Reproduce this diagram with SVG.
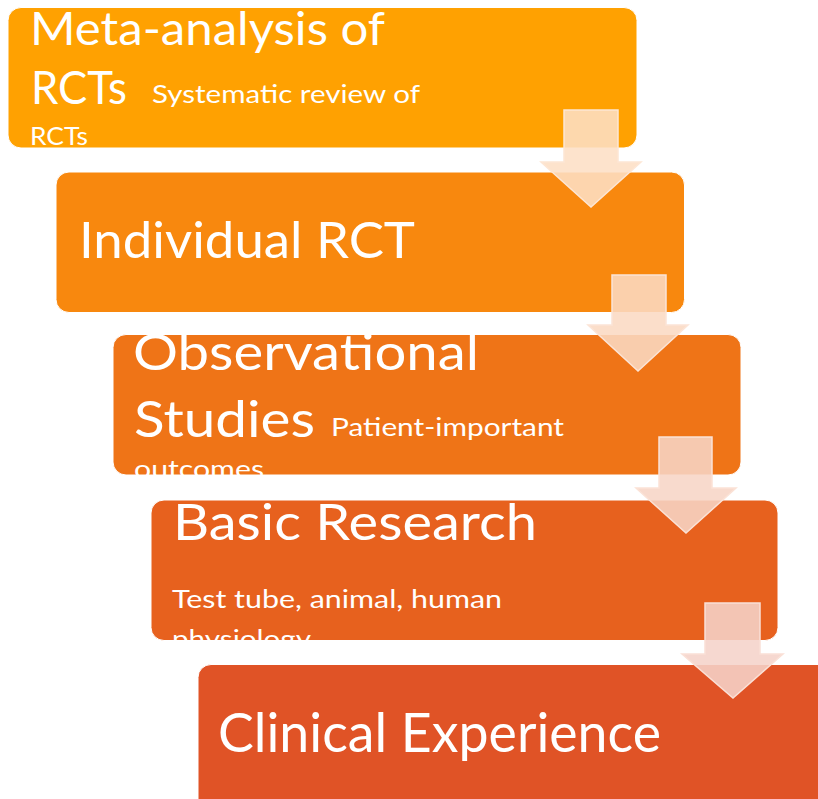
<svg xmlns="http://www.w3.org/2000/svg" width="818" height="799" viewBox="0 0 818 799">
  <style>
    .box { stroke: #ffffff; stroke-width: 1; }
    .t { font-family: Lato, "Open Sans", "Liberation Sans", sans-serif; fill: #ffffff; }
    .big { font-size: 46px; }
    .big2 { font-size: 51px; }
    .small { font-size: 25px; }
    .arrow { stroke-width: 1.5; stroke-linejoin: miter; }
  </style>
  <defs>
    <clipPath id="c1"><rect x="8" y="7.5" width="629" height="140.5" rx="13"/></clipPath>
    <clipPath id="c2"><rect x="56" y="172" width="628.5" height="140.5" rx="13"/></clipPath>
    <clipPath id="c3"><rect x="113" y="334.5" width="628" height="140.5" rx="13"/></clipPath>
    <clipPath id="c4"><rect x="151" y="500" width="627" height="140.5" rx="13"/></clipPath>
    <clipPath id="c5"><rect x="198" y="664.5" width="640" height="160" rx="13"/></clipPath>
  </defs>
  <rect width="818" height="799" fill="#ffffff"/>

  <g id="node-meta-analysis">
    <rect class="box" x="8" y="7.5" width="629" height="140.5" rx="13" fill="#FFA101"/>
    <g clip-path="url(#c1)">
      <text class="t big" x="30" y="45" textLength="355" lengthAdjust="spacingAndGlyphs">Meta-analysis of</text>
      <text class="t big" x="31" y="104" textLength="96" lengthAdjust="spacingAndGlyphs">RCTs</text>
      <text class="t small" x="152" y="103" textLength="268" lengthAdjust="spacingAndGlyphs">Systematic review of</text>
      <text class="t small" x="30" y="145" textLength="58" lengthAdjust="spacingAndGlyphs">RCTs</text>
    </g>
  </g>

  <g id="node-individual-rct">
    <rect class="box" x="56" y="172" width="628.5" height="140.5" rx="13" fill="#F8880E"/>
    <g clip-path="url(#c2)">
      <text class="t big2" x="79" y="258" textLength="336" lengthAdjust="spacingAndGlyphs">Individual RCT</text>
    </g>
  </g>

  <g id="node-observational">
    <rect class="box" x="113" y="334.5" width="628" height="140.5" rx="13" fill="#EF7417"/>
    <g clip-path="url(#c3)">
      <text class="t big2" x="133" y="370" textLength="346" lengthAdjust="spacingAndGlyphs">Observational</text>
      <text class="t big2" x="134" y="437" textLength="181" lengthAdjust="spacingAndGlyphs">Studies</text>
      <text class="t small" x="331" y="436" textLength="233" lengthAdjust="spacingAndGlyphs">Patient-important</text>
      <text class="t small" x="134" y="478" textLength="130" lengthAdjust="spacingAndGlyphs">outcomes</text>
    </g>
  </g>

  <g id="node-basic-research">
    <rect class="box" x="151" y="500" width="627" height="140.5" rx="13" fill="#E7611E"/>
    <g clip-path="url(#c4)">
      <text class="t big2" x="173" y="540" textLength="364" lengthAdjust="spacingAndGlyphs">Basic Research</text>
      <text class="t small" x="172" y="608" textLength="330" lengthAdjust="spacingAndGlyphs">Test tube, animal, human</text>
      <text class="t small" x="172" y="648" textLength="139" lengthAdjust="spacingAndGlyphs">physiology</text>
    </g>
  </g>

  <g id="node-clinical-experience">
    <rect class="box" x="198" y="664.5" width="640" height="160" rx="13" fill="#E05326"/>
    <g clip-path="url(#c5)">
      <text class="t" style="font-size:54px" x="218" y="752" textLength="443" lengthAdjust="spacingAndGlyphs">Clinical Experience</text>
    </g>
  </g>

  <!-- down arrows between the levels -->
  <g id="connectors">
    <polygon class="arrow" points="564,110 618,110 618,162 641,162 591,207 541,162 564,162" fill="#FDDFC5" fill-opacity="0.88" stroke="#FDE6D4"/>
    <polygon class="arrow" points="612,275 666,275 666,325 688,325 638,371 588,325 612,325" fill="#FAD9C3" fill-opacity="0.88" stroke="#FCE4D6"/>
    <polygon class="arrow" points="659,437 712,437 712,488 736,488 686,533 636,488 659,488" fill="#F7D5C6" fill-opacity="0.88" stroke="#FBE2D6"/>
    <polygon class="arrow" points="705,603 760,603 760,654 783,654 733,698 682,654 705,654" fill="#F5D3C9" fill-opacity="0.88" stroke="#FAE0D6"/>
  </g>
</svg>
